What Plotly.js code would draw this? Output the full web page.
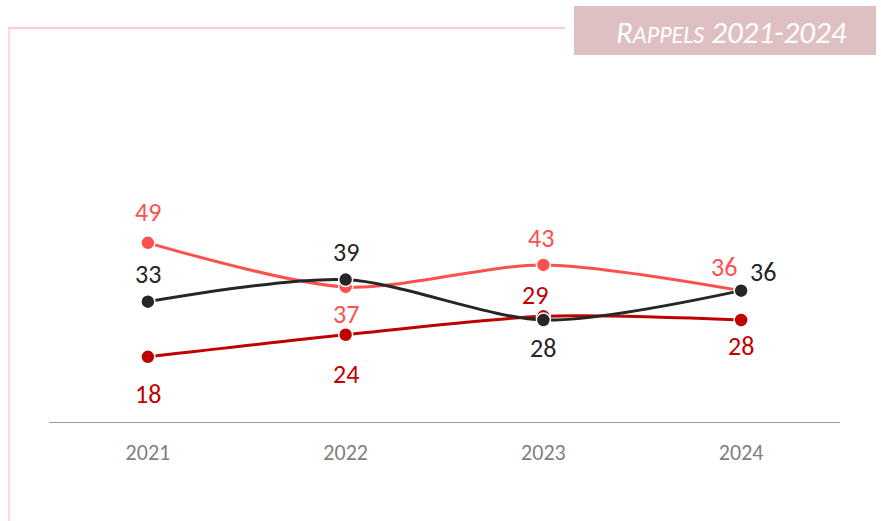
<!DOCTYPE html>
<html><head><meta charset="utf-8">
<script src="https://cdn.plot.ly/plotly-3.0.1.min.js"></script>
<style>html,body{margin:0;padding:0;background:#fff}#c{width:881px;height:521px}</style>
</head><body><div id="c"></div>
<script>
const years = ['2021', '2022', '2023', '2024'];
const seriesPink = [49, 37, 43, 36];
const seriesBlack = [33, 39, 28, 36];
const seriesRed = [18, 24, 29, 28];
const titleText = "R<span style='font-size:24px'>APPELS</span> 2021-2024";

// label offsets in pixels [dx, dy] (screen up = positive dy)
const offPink = [[0, 31], [0, -27], [-2, 27], [-17, 24]];
const offBlack = [[0, 28], [0, 28], [0, -28], [22, 19]];
const offRed = [[0, -37], [0, -39], [-8, 21], [0, -26]];

const W = 881, H = 521;
const L = 49, R = 41, T = 60, B = 98;
const pw = W - L - R, ph = H - T - B;
const yMax = ph / 3.677;
const px = x => (x - L) / pw;
const py = y => (H - B - y) / ph;

const font = 'Carlito, Calibri, Lato, sans-serif';
const cPink = '#ff5050', cBlack = '#262626', cRed = '#c00000';

function tr(vals, col) {
  return {x: years, y: vals, type: 'scatter', mode: 'lines+markers',
    line: {color: col, width: 3, shape: 'spline', smoothing: 0.8},
    marker: {color: col, size: 14, line: {color: '#fff', width: 1.5}},
    hoverinfo: 'skip', cliponaxis: false};
}
const anns = [];
function labels(vals, col, offs) {
  vals.forEach((v, i) => anns.push({x: i, y: v, xref: 'x', yref: 'y', text: String(v),
    showarrow: false, xshift: offs[i][0], yshift: offs[i][1],
    font: {family: font, size: 26, color: col}}));
}
labels(seriesPink, cPink, offPink);
labels(seriesBlack, cBlack, offBlack);
labels(seriesRed, cRed, offRed);
anns.push({xref: 'paper', yref: 'paper', x: px(731), y: py(32), text: titleText, showarrow: false,
  font: {family: font, size: 31, color: '#fff', style: 'italic'}, xanchor: 'center', yanchor: 'middle'});

const shapes = [
  {type: 'line', xref: 'paper', yref: 'paper', x0: px(8), x1: px(565), y0: py(28), y1: py(28), line: {color: '#ffcccc', width: 2}},
  {type: 'line', xref: 'paper', yref: 'paper', x0: px(9), x1: px(9), y0: py(28), y1: py(522), line: {color: '#ffd6d6', width: 2}},
  {type: 'rect', xref: 'paper', yref: 'paper', x0: px(574), x1: px(876), y0: py(6), y1: py(55), line: {width: 0}, fillcolor: '#dfc0c2'}
];

Plotly.newPlot('c', [tr(seriesPink, cPink), tr(seriesRed, cRed), tr(seriesBlack, cBlack)], {
  width: W, height: H, margin: {l: L, r: R, t: T, b: B},
  paper_bgcolor: '#fff', plot_bgcolor: '#fff', showlegend: false,
  xaxis: {type: 'category', range: [-0.5, 3.5], showgrid: false, zeroline: false,
    showline: false, ticks: '', ticklabelstandoff: 14,
    tickfont: {family: font, size: 22, color: '#7f7f7f'}},
  yaxis: {range: [0, yMax], visible: false, showgrid: false, zeroline: false},
  shapes: shapes.concat([{type: 'line', xref: 'paper', yref: 'y', x0: 0, x1: 1, y0: 0, y1: 0, layer: 'below',
    line: {color: '#808080', width: 1.5}}]),
  annotations: anns
}, {displayModeBar: false, staticPlot: true});
</script></body></html>
